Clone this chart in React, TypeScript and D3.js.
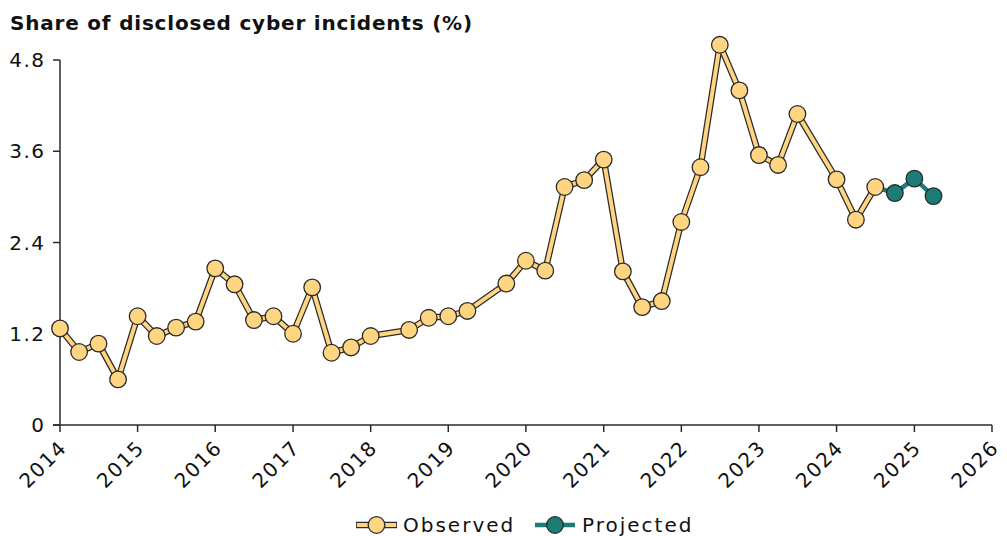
import React from "react";
import * as d3 from "d3";

const observedDates = [
  "2014-01-01", "2014-04-01", "2014-07-01", "2014-10-01",
  "2015-01-01", "2015-04-01", "2015-07-01", "2015-10-01",
  "2016-01-01", "2016-04-01", "2016-07-01", "2016-10-01",
  "2017-01-01", "2017-04-01", "2017-07-01", "2017-10-01",
  "2018-01-01", "2018-07-01", "2018-10-01",
  "2019-01-01", "2019-04-01", "2019-10-01",
  "2020-01-01", "2020-04-01", "2020-07-01", "2020-10-01",
  "2021-01-01", "2021-04-01", "2021-07-01", "2021-10-01",
  "2022-01-01", "2022-04-01", "2022-07-01", "2022-10-01",
  "2023-01-01", "2023-04-01", "2023-07-01",
  "2024-01-01", "2024-04-01", "2024-07-01",
];
const observedValues = [
  1.27, 0.96, 1.07, 0.6,
  1.43, 1.17, 1.28, 1.36,
  2.06, 1.85, 1.38, 1.43,
  1.2, 1.81, 0.95, 1.02,
  1.17, 1.25, 1.41,
  1.43, 1.5, 1.86,
  2.16, 2.03, 3.13, 3.22,
  3.49, 2.02, 1.55, 1.63,
  2.67, 3.39, 5.0, 4.4,
  3.55, 3.42, 4.09,
  3.23, 2.7, 3.13,
];
const projectedDates = ["2024-10-01", "2025-01-01", "2025-04-01"];
const projectedValues = [3.05, 3.24, 3.01];

const yTicks = [0, 1.2, 2.4, 3.6, 4.8];
const xTickYears = [2014, 2015, 2016, 2017, 2018, 2019, 2020, 2021, 2022, 2023, 2024, 2025, 2026];

const title = "Share of disclosed cyber incidents (%)";
const seriesNames = ["Observed", "Projected"];

const W = 1007;
const H = 536;
const FONT = "'DejaVu Sans', sans-serif";
const YELLOW = "#FFD581";
const TEAL = "#1B7D76";
const DARK = "#2a2a2a";

type Pt = { date: Date; value: number };

export default function App() {
  const parse = d3.timeParse("%Y-%m-%d");
  const observed: Pt[] = observedDates.map((d, i) => ({ date: parse(d)!, value: observedValues[i] }));
  const projected: Pt[] = projectedDates.map((d, i) => ({ date: parse(d)!, value: projectedValues[i] }));
  const projLine: Pt[] = [observed[observed.length - 1], ...projected];

  const x = d3
    .scaleTime()
    .domain([new Date(2014, 0, 1), new Date(2026, 0, 1)])
    .range([60, 992]);
  const y = d3.scaleLinear().domain([0, 4.8]).range([425, 60]);

  const line = d3
    .line<Pt>()
    .x((d) => x(d.date))
    .y((d) => y(d.value));

  const textStyle: React.CSSProperties = { fontFamily: FONT, fontSize: 20, fill: "#111", letterSpacing: 1.5 };

  return (
    <svg
      width={W}
      height={H}
      style={{ position: "absolute", left: 0, top: 0, background: "#fff" }}
    >
      <text x={10} y={30} style={{ ...textStyle, fontSize: 20, fontWeight: "bold", letterSpacing: 0.8 }}>
        {title}
      </text>

      {/* y axis */}
      <line x1={60} x2={60} y1={y(4.8)} y2={y(0)} stroke={DARK} strokeWidth={1.5} />
      {yTicks.map((t) => (
        <g key={t}>
          <line x1={53} x2={60} y1={y(t)} y2={y(t)} stroke={DARK} strokeWidth={1.5} />
          <text x={45.5} y={y(t)} dy="0.36em" textAnchor="end" style={textStyle}>
            {d3.format("")(t)}
          </text>
        </g>
      ))}

      {/* x axis */}
      <line x1={53} x2={992} y1={y(0)} y2={y(0)} stroke={DARK} strokeWidth={1.5} />
      {xTickYears.map((yr) => {
        const xx = x(new Date(yr, 0, 1));
        return (
          <g key={yr}>
            <line x1={xx} x2={xx} y1={425} y2={432} stroke={DARK} strokeWidth={1.5} />
            <text
              transform={`translate(${xx + 8},${449}) rotate(-45)`}
              textAnchor="end"
              style={textStyle}
            >
              {yr}
            </text>
          </g>
        );
      })}

      {/* projected line */}
      <path d={line(projLine)!} fill="none" stroke={TEAL} strokeWidth={4.5} strokeLinejoin="round" />

      {/* observed line with casing */}
      <path d={line(observed)!} fill="none" stroke={DARK} strokeWidth={6.5} strokeLinejoin="round" />
      <path d={line(observed)!} fill="none" stroke={YELLOW} strokeWidth={4} strokeLinejoin="round" />

      {projected.map((d, i) => (
        <circle key={"p" + i} cx={x(d.date)} cy={y(d.value)} r={8.3} fill={TEAL} stroke={DARK} strokeWidth={1.3} />
      ))}
      {observed.map((d, i) => (
        <circle key={"o" + i} cx={x(d.date)} cy={y(d.value)} r={8.3} fill={YELLOW} stroke={DARK} strokeWidth={1.3} />
      ))}

      {/* legend */}
      <g>
        <line x1={356} x2={397} y1={525} y2={525} stroke={DARK} strokeWidth={6.5} />
        <line x1={356.8} x2={396.2} y1={525} y2={525} stroke={YELLOW} strokeWidth={4} />
        <circle cx={376.5} cy={525} r={8.3} fill={YELLOW} stroke={DARK} strokeWidth={1.3} />
        <text x={403} y={532} style={{ ...textStyle, letterSpacing: 2 }}>
          {seriesNames[0]}
        </text>
        <line x1={535} x2={575} y1={525} y2={525} stroke={TEAL} strokeWidth={4.5} />
        <circle cx={555} cy={525} r={8.3} fill={TEAL} stroke={DARK} strokeWidth={1.3} />
        <text x={582} y={532} style={{ ...textStyle, letterSpacing: 2 }}>
          {seriesNames[1]}
        </text>
      </g>
    </svg>
  );
}
